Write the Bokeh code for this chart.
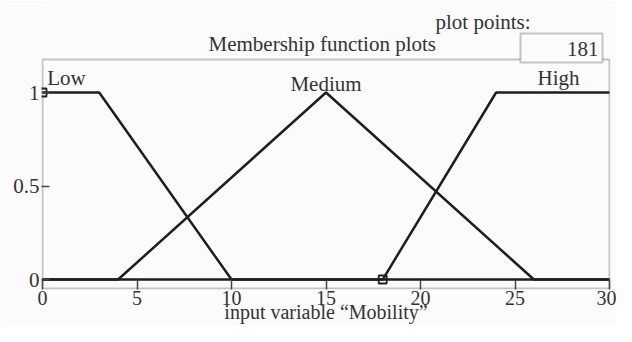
from bokeh.plotting import figure
from bokeh.models import Range1d, FixedTicker, Label, BoxAnnotation
from bokeh.embed import file_html
from bokeh.resources import INLINE

# Data
low_x = [0, 3, 10, 30]
low_y = [1, 1, 0, 0]
med_x = [0, 4, 15, 26, 30]
med_y = [0, 0, 1, 0, 0]
high_x = [0, 18, 24, 30]
high_y = [0, 0, 1, 1]
mf_names = ["Low", "Medium", "High"]
name_x = [0.25, 15, 27.3]
name_y = [1.08, 1.048, 1.08]
x_ticks = [0, 5, 10, 15, 20, 25, 30]
y_ticks = [0, 0.5, 1]
y_tick_labels = ["0", "0.5", "1"]
marker_x = [0, 18]
marker_y = [1, 0]
plot_points = "181"

X_MIN, X_MAX = 0, 30
Y_LOW = -0.048      # bottom of the axes box
Y_BOX_TOP = 1.176   # top of the axes box
PAD_X = 1 / 18.9    # one pixel of padding so the box stroke is not clipped
PAD_Y = 1 / 187.0
Y_CANVAS_TOP = 1.492

FONT = "Liberation Serif"
FS = "21px"
FS_X = "20px"
BG = "#fbfbfb"
LINE = "#1e1e1e"
FRAME = "#454545"
TXT = "#333333"

p = figure(width=616, height=326, output_backend="svg", toolbar_location=None,
           x_range=Range1d(X_MIN - PAD_X, X_MAX + PAD_X),
           y_range=Range1d(Y_LOW - PAD_Y, Y_CANVAS_TOP),
           min_border_left=41, min_border_right=6, min_border_top=0, min_border_bottom=37,
           background_fill_color=BG, border_fill_color=BG)
p.grid.visible = False
p.outline_line_color = None

# axes box
p.add_layout(BoxAnnotation(left=X_MIN, right=X_MAX, bottom=Y_LOW, top=Y_BOX_TOP,
                           fill_alpha=0, line_color=FRAME, line_width=2))

for xs, ys in [(low_x, low_y), (med_x, med_y), (high_x, high_y)]:
    p.line(xs, ys, line_color=LINE, line_width=2.5)
p.scatter(marker_x, marker_y, marker="square", size=8, fill_color=None,
          line_color=LINE, line_width=1.8)

aligns = ["left", "center", "center"]
for nm, nx, ny, al in zip(mf_names, name_x, name_y, aligns):
    p.add_layout(Label(x=nx, y=ny, text=nm, text_align=al, text_baseline="middle",
                       text_font=FONT, text_font_size=FS, text_color=TXT))

# axes
xa = p.xaxis[0]
xa.ticker = FixedTicker(ticks=x_ticks)
xa.axis_label = "input variable \u201cMobility\u201d"
xa.axis_label_text_font = FONT
xa.axis_label_text_font_size = FS_X
xa.axis_label_text_font_style = "normal"
xa.axis_label_text_color = TXT
xa.axis_label_standoff = -7
xa.major_label_text_font = FONT
xa.major_label_text_font_size = FS_X
xa.major_label_text_color = TXT
xa.major_label_standoff = 1
xa.major_tick_in = 10
xa.major_tick_out = 0
xa.minor_tick_line_color = None
xa.axis_line_color = None
xa.major_tick_line_color = FRAME
xa.major_tick_line_width = 1.5

ya = p.yaxis[0]
ya.ticker = FixedTicker(ticks=y_ticks)
ya.major_label_overrides = {t: s for t, s in zip(y_ticks, y_tick_labels)}
ya.major_label_text_font = FONT
ya.major_label_text_font_size = FS
ya.major_label_text_color = TXT
ya.major_label_standoff = 2
ya.major_tick_in = 8
ya.major_tick_out = 0
ya.minor_tick_line_color = None
ya.axis_line_color = None
ya.major_tick_line_color = FRAME
ya.major_tick_line_width = 1.5

# title and plot-points widget (screen units, relative to the frame)
p.add_layout(Label(x=167, y=246, x_units="screen", y_units="screen",
                   text="Membership function plots", text_font=FONT, text_font_size=FS,
                   text_color=TXT, text_baseline="middle", text_align="left"))
p.add_layout(Label(x=394, y=268, x_units="screen", y_units="screen",
                   text="plot points:", text_font=FONT, text_font_size=FS,
                   text_color=TXT, text_baseline="middle", text_align="left"))
p.add_layout(BoxAnnotation(left=479, right=561, bottom=227, top=256,
                           left_units="screen", right_units="screen",
                           bottom_units="screen", top_units="screen",
                           fill_color=BG, fill_alpha=1.0, line_color=FRAME, line_width=2))
p.add_layout(Label(x=557, y=241, x_units="screen", y_units="screen",
                   text=plot_points, text_font=FONT, text_font_size=FS,
                   text_color=TXT, text_baseline="middle", text_align="right"))

open("out.html", "w").write(file_html(p, INLINE))
